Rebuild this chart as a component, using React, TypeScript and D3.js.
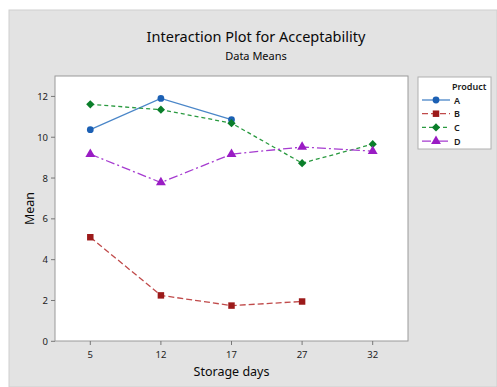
import React from "react";
import { scalePoint, scaleLinear, line, symbol, symbolCircle, symbolSquare, symbolTriangle } from "d3";

const days = ["5", "12", "17", "27", "32"];
const yTicks = [0, 2, 4, 6, 8, 10, 12];

const productA = [10.37, 11.9, 10.86, null, null];
const productB = [5.1, 2.25, 1.75, 1.95, null];
const productC = [11.61, 11.35, 10.69, 8.73, 9.66];
const productD = [9.17, 7.78, 9.17, 9.52, 9.32];

const series = [
  { name: "A", values: productA, color: "#1c60b4", line: "#4a86c8", dash: "none", shape: symbolCircle, size: 36, rot: 0 },
  { name: "B", values: productB, color: "#9c1a1a", line: "#c04a4a", dash: "6,3", shape: symbolSquare, size: 42, rot: 0 },
  { name: "C", values: productC, color: "#0a7e2a", line: "#2a9a40", dash: "4,3", shape: symbolSquare, size: 34, rot: 45 },
  { name: "D", values: productD, color: "#9a1cc4", line: "#a63cd0", dash: "9,3,2,3", shape: symbolTriangle, size: 42, rot: 0 },
];

const W = 497;
const H = 387;
const plot = { left: 55, right: 408, top: 76, bottom: 341 };
const font = "'Noto Sans', 'Open Sans', sans-serif";

export default function App() {
  const x = scalePoint<string>().domain(days).range([plot.left, plot.right]).padding(0.5);
  const y = scaleLinear().domain([0, 13]).range([plot.bottom + 0.3, plot.top]);

  const path = line<number | null>()
    .defined((d) => d != null)
    .x((_, i) => x(days[i]) as number)
    .y((d) => y(d as number));

  return (
    <svg width={W} height={H} style={{ position: "absolute", left: 0, top: 0 }}>
      <rect x={0} y={0} width={W} height={H} fill="#ffffff" />
      <rect x={9} y={10} width={W - 9} height={H - 10} fill="#e3e3e3" stroke="#cfcfcf" />
      <rect x={plot.left} y={plot.top} width={plot.right - plot.left} height={plot.bottom - plot.top}
        fill="#ffffff" stroke="#9a9a9a" strokeWidth={1} />

      <text x={256} y={42} textAnchor="middle" fontFamily={font} fontSize={14.5} fill="#0a0a0a">
        Interaction Plot for Acceptability
      </text>
      <text x={256} y={60} textAnchor="middle" fontFamily={font} fontSize={11} fill="#0a0a0a">
        Data Means
      </text>

      {yTicks.map((t) => (
        <g key={t}>
          <line x1={plot.left - 4} x2={plot.left} y1={y(t)} y2={y(t)} stroke="#777" />
          <text x={plot.left - 7} y={y(t) + 3.5} textAnchor="end" fontFamily={font} fontSize={9.5} fill="#222">
            {t}
          </text>
        </g>
      ))}
      {days.map((d) => (
        <g key={d}>
          <line x1={x(d)} x2={x(d)} y1={plot.bottom} y2={plot.bottom + 4} stroke="#777" />
          <text x={x(d)} y={plot.bottom + 17} textAnchor="middle" fontFamily={font} fontSize={9.5} fill="#222">
            {d}
          </text>
        </g>
      ))}

      <text x={(plot.left + plot.right) / 2} y={376} textAnchor="middle" fontFamily={font} fontSize={12.5} fill="#0a0a0a">
        Storage days
      </text>
      <text transform={`translate(34,${(plot.top + plot.bottom) / 2}) rotate(-90)`} textAnchor="middle"
        fontFamily={font} fontSize={12.5} fill="#0a0a0a">
        Mean
      </text>

      {series.map((s) => (
        <g key={s.name}>
          <path d={path(s.values) || ""} fill="none" stroke={s.line} strokeWidth={1.3} strokeDasharray={s.dash} />
          {s.values.map((v, i) =>
            v == null ? null : (
              <path key={i} transform={`translate(${x(days[i])},${y(v)}) rotate(${s.rot})`}
                d={symbol().type(s.shape).size(s.size)() || ""} fill={s.color} />
            )
          )}
        </g>
      ))}

      <rect x={418} y={77} width={73} height={72} fill="#ffffff" stroke="#b0b0b0" />
      <text x={452} y={90} fontFamily={font} fontSize={9} fontWeight={600} fill="#1a1a1a">Product</text>
      {series.map((s, i) => {
        const ly = 100 + i * 13.7;
        return (
          <g key={s.name}>
            <line x1={422} x2={450} y1={ly} y2={ly} stroke={s.line} strokeWidth={1.3} strokeDasharray={s.dash} />
            <path transform={`translate(436,${ly}) rotate(${s.rot})`} d={symbol().type(s.shape).size(s.size)() || ""} fill={s.color} />
            <text x={454} y={ly + 3.5} fontFamily={font} fontSize={9} fontWeight={600} fill="#1a1a1a">{s.name}</text>
          </g>
        );
      })}
    </svg>
  );
}
